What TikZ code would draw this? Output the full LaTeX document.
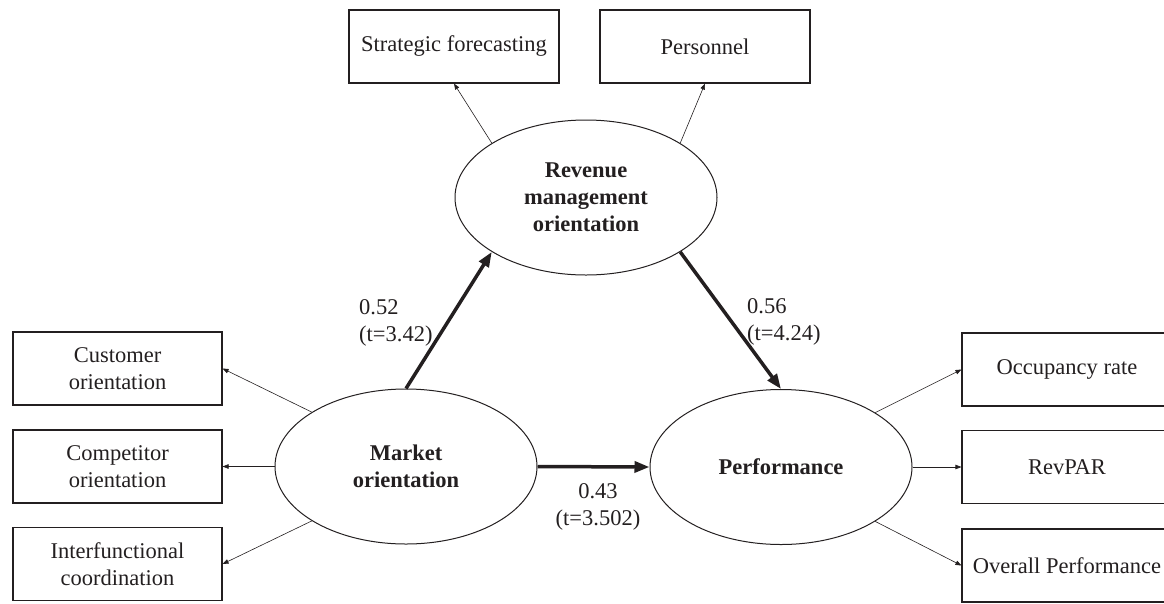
\documentclass[tikz,border=0pt]{standalone}
\usepackage{fontspec}
\setmainfont{Liberation Serif}
\usetikzlibrary{arrows.meta,shapes.geometric}

\definecolor{ink}{HTML}{231F20}

\newcommand*{\picw}{1164}
\newcommand*{\pich}{603}

\begin{document}
\begin{tikzpicture}
[
	x=1pt,y=-1pt,
	every node/.style={text=ink,font=\fontsize{22.5}{27}\selectfont},
	indbox/.style={draw=ink,line width=1.1pt,rectangle,minimum width=210pt,minimum height=73pt,inner sep=0pt,align=center},
	latent/.style={draw=ink,line width=1pt,ellipse,minimum width=262pt,minimum height=155pt,inner sep=0pt,align=center,font=\fontsize{22.5}{27}\selectfont\bfseries},
	load/.style={draw=ink,line width=0.6pt,-{Triangle[length=6pt,width=4.5pt]}},
	path/.style={draw=ink,line width=3.5pt,-{Triangle[length=15pt,width=11pt]}},
	coef/.style={inner sep=0pt}
]

	\useasboundingbox (0,0) rectangle (\picw,\pich);

	% latent variables
	\node[latent] (rmo) at (586,197.5) {Revenue\\management\\orientation};
	\node[latent] (mo) at (406,466.5) {Market\\orientation};
	\node[latent] (perf) at (781,467) {Performance};

	% indicators
	\node[indbox] (strat) at (454,46.5) {Strategic forecasting};
	\node[indbox] (pers) at (705,46.5) {Personnel};
	\node[indbox,minimum width=209pt] (cust) at (117.5,368.5) {Customer\\orientation};
	\node[indbox,minimum width=209pt] (comp) at (117.5,466.5) {Competitor\\orientation};
	\node[indbox,minimum width=209pt] (inter) at (117.5,564) {Interfunctional\\coordination};
	\node[indbox] (occ) at (1067,369.5) {Occupancy rate};
	\node[indbox] (rev) at (1067,467) {RevPAR};
	\node[indbox] (over) at (1067,565.5) {Overall Performance};

	% loadings
	\draw[load] (rmo.150) -- (strat.south);
	\draw[load] (rmo.30) -- (pers.south);
	\draw[load] (mo.150) -- (cust.east);
	\draw[load] (mo.west) -- (comp.east);
	\draw[load] (mo.210) -- (inter.east);
	\draw[load] (perf.30) -- (occ.west);
	\draw[load] (perf.east) -- (rev.west);
	\draw[load] (perf.330) -- (over.west);

	% structural paths
	\draw[path] (mo.north) -- (rmo.210);
	\draw[path] (rmo.330) -- (perf.north);
	\draw[path] (mo.east) -- (perf.west);

	\node[coef,anchor=west,align=left] (c1) at (359,323) {0.52\\(t=3.42)};
	\node[coef,anchor=west,align=left] (c2) at (747,322) {0.56\\(t=4.24)};
	\node[coef,align=center] (c3) at (598,507) {0.43\\(t=3.502)};

\end{tikzpicture}
\end{document}
